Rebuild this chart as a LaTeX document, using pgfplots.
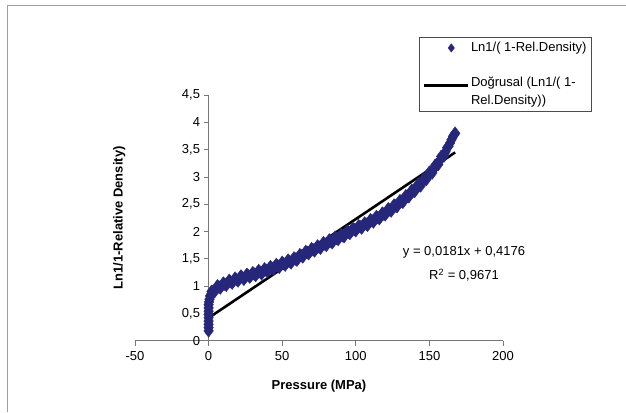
\documentclass[border=0pt]{standalone}
\usepackage{pgfplots}
\pgfplotsset{compat=1.18}
\usetikzlibrary{shapes.geometric}
\usepackage{fontspec}
\setmainfont{Liberation Sans}
\definecolor{navy}{RGB}{38,38,122}
\definecolor{axgray}{RGB}{120,120,120}
\pgfplotsset{
  legmark/.style={legend image code/.code={\path (0cm,0cm) -- node[pos=0.55, diamond, fill=navy, draw=navy, inner sep=0pt, minimum width=6.5pt, minimum height=8.5pt]{} (1.55cm,0cm);}},
  legline/.style={legend image code/.code={\draw[##1] (0cm,0cm) -- (1.55cm,0cm);}},
}
\begin{document}
\begin{tikzpicture}[x=1pt,y=1pt]
\path[use as bounding box] (0,0) rectangle (626,412);
\draw[gray!75, line width=1pt] (7,0) -- (7,406) -- (626,406);
\begin{axis}[
  at={(135pt,71.3pt)}, anchor=south west,
  scale only axis, width=368pt, height=245.7pt,
  xmin=-50, xmax=200, ymin=0, ymax=4.5,
  axis lines=center, axis line style={-, axgray, line width=0.8pt},
  hide obscured x ticks=false, hide obscured y ticks=false,
  xtick={-50,0,50,100,150,200},
  ytick={0,0.5,1,1.5,2,2.5,3,3.5,4,4.5},
  tick align=outside, major tick length=5pt,
  tick style={axgray, line width=0.8pt},
  /pgf/number format/assume math mode=true,
  /pgf/number format/use comma,
  /pgf/number format/1000 sep={},
  ticklabel style={font=\fontsize{13}{15}\selectfont},
  yticklabel style={xshift=0pt},
  xticklabel style={yshift=-2pt},
  xlabel={\textbf{Pressure (MPa)}},
  ylabel={\textbf{Ln1/1-Relative Density)}},
  label style={font=\fontsize{13}{15}\selectfont},
  xlabel style={at={(axis description cs:0.5,-0.185)}, anchor=center},
  ylabel style={at={(axis description cs:-0.043,0.5)}, anchor=center, rotate=90},
  clip=false,
  legend style={at={(axis description cs:0.772,1.235)}, anchor=north west,
    draw=black!70, font=\fontsize{13}{18}\selectfont, cells={align=left},
    row sep=8pt, inner xsep=3pt, inner ysep=3pt},
  legend cell align=left,
]
\addplot[draw=none, mark=diamond*, mark size=6.4pt, mark options={draw=navy, fill=navy}, legmark]
coordinates {
(0,0.18) (0,0.24) (0,0.30) (0,0.36) (0,0.42) (0,0.48) (0,0.54) (0,0.60) (0,0.66) (0.3,0.71)
(0.6,0.76) (1,0.82) (1.5,0.84) (2,0.905) (3,0.90) (4,0.895) (5,0.95) (6,1.005) (7,0.985) (8,0.965)
(9,1.01) (10,1.055) (11,1.035) (12,1.015) (13,1.06) (14,1.105) (15,1.08) (16,1.055) (17,1.10) (18,1.145)
(19,1.12) (20,1.095) (21,1.14) (22,1.185) (23,1.155) (24,1.125) (25,1.17) (26,1.215) (27,1.19) (28,1.165)
(29,1.205) (30,1.245) (31,1.22) (32,1.195) (33,1.24) (34,1.285) (35,1.255) (36,1.225) (37,1.27) (38,1.315)
(39,1.29) (40,1.265) (41,1.31) (42,1.355) (43,1.33) (44,1.305) (45,1.35) (46,1.395) (47,1.37) (48,1.345)
(49,1.39) (50,1.435) (51,1.41) (52,1.385) (53,1.43) (54,1.475) (55,1.45) (56,1.425) (57,1.47) (58,1.515)
(59,1.495) (60,1.475) (61,1.525) (62,1.575) (63,1.555) (64,1.535) (65,1.585) (66,1.635) (67,1.615) (68,1.595)
(69,1.64) (70,1.685) (71,1.665) (72,1.645) (73,1.69) (74,1.735) (75,1.715) (76,1.695) (77,1.745) (78,1.795)
(79,1.77) (80,1.745) (81,1.795) (82,1.845) (83,1.82) (84,1.795) (85,1.845) (86,1.895) (87,1.875) (88,1.855)
(89,1.90) (90,1.945) (91,1.925) (92,1.905) (93,1.955) (94,2.005) (95,1.985) (96,1.965) (97,2.01) (98,2.055)
(99,2.035) (100,2.015) (101,2.06) (102,2.105) (103,2.085) (104,2.065) (105,2.11) (106,2.155) (107,2.135) (108,2.115)
(109,2.165) (110,2.215) (111,2.195) (112,2.175) (113,2.225) (114,2.275) (115,2.255) (116,2.235) (117,2.285) (118,2.335)
(119,2.32) (120,2.305) (121,2.36) (122,2.415) (123,2.395) (124,2.375) (125,2.43) (126,2.485) (127,2.47) (128,2.455)
(129,2.51) (130,2.565) (131,2.55) (132,2.535) (133,2.595) (134,2.655) (135,2.645) (136,2.635) (137,2.695) (138,2.755)
(139,2.745) (140,2.735) (141,2.795) (142,2.855) (143,2.845) (144,2.835) (145,2.90) (146,2.965) (147,2.96) (148,2.955)
(149,3.02) (150,3.085) (151,3.08) (152,3.075) (153,3.145) (154,3.215) (155,3.22) (156,3.225) (157,3.30) (158,3.375)
(159,3.38) (160,3.385) (161,3.46) (162,3.535) (163,3.56) (164,3.62) (165,3.68) (166,3.74) (167,3.78) (167.5,3.80)
};
\addlegendentry{Ln1/( 1-Rel.Density)}
\addplot[black, line width=2.6pt, legline]
coordinates {(0,0.4176) (167.5,3.449)};
\addlegendentry{\rule{0pt}{21pt}Do\u{g}rusal (Ln1/( 1-\\Rel.Density))}
\node[font=\fontsize{13}{15}\selectfont, anchor=center] at (axis cs:173.5,1.61) {y = 0,0181x + 0,4176};
\node[font=\fontsize{13}{15}\selectfont, anchor=center] at (axis cs:173.5,1.20) {R$^{\mathrm{2}}$ = 0,9671};
\end{axis}
\end{tikzpicture}
\end{document}
